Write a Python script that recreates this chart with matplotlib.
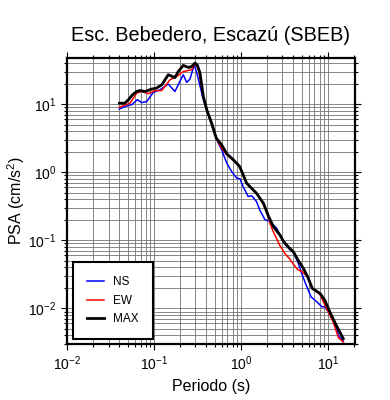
import matplotlib
matplotlib.use("Agg")
import matplotlib.pyplot as plt
from matplotlib.ticker import LogLocator, NullFormatter

plt.rcParams['font.family'] = ['Liberation Sans', 'DejaVu Sans']
plt.rcParams['mathtext.fontset'] = 'custom'
plt.rcParams['mathtext.rm'] = 'Liberation Sans'
plt.rcParams['mathtext.it'] = 'Liberation Sans:italic'

title = "Esc. Bebedero, Escazú (SBEB)"
xlabel = "Periodo (s)"
ylabel = "PSA (cm/s$^2$)"

# NS component
T_ns = [0.040, 0.0486, 0.0555, 0.0643, 0.0722, 0.0824, 0.098, 0.117, 0.146, 0.174,
        0.217, 0.238, 0.259, 0.283, 0.296, 0.318, 0.369, 0.421, 0.526, 0.60,
        0.686, 0.782, 0.893, 0.975, 1.06, 1.21, 1.33, 1.51, 1.65, 1.89,
        2.15, 2.57, 3.1, 3.6, 4.0, 4.5, 4.98, 5.5, 6.4, 7.2, 8.5, 9.2,
        10.5, 12.4, 13.2, 15.0]
psa_ns = [8.45, 9.4, 9.8, 11.6, 10.5, 10.9, 14.8, 16.2, 19.7, 15.3,
          27.0, 20.8, 23.3, 33.8, 35.6, 25.5, 11.6, 7.0, 3.0, 2.13,
          1.36, 1.02, 0.82, 0.80, 0.61, 0.44, 0.45, 0.37, 0.275, 0.20,
          0.19, 0.15, 0.093, 0.074, 0.066, 0.048, 0.033, 0.0235, 0.0147, 0.013, 0.0106, 0.0105,
          0.0083, 0.0055, 0.0040, 0.0033]

# EW component
T_ew = [0.040, 0.053, 0.0632, 0.0722, 0.086, 0.1026, 0.1227, 0.153, 0.183, 0.217,
        0.271, 0.296, 0.323, 0.369, 0.405, 0.46, 0.52, 0.60, 0.686, 0.817,
        0.93, 0.97, 1.16, 1.51, 1.81, 2.06, 2.15, 2.35, 2.78, 3.2,
        3.6, 4.2, 4.5, 4.98, 5.85, 6.6, 8.1, 9.6, 11.5, 13.2, 15.0]
psa_ew = [9.0, 10.3, 14.5, 15.3, 14.2, 15.8, 15.8, 22.8, 25.5, 30.0,
          31.9, 39.0, 33.8, 12.5, 8.3, 5.1, 3.1, 2.25, 1.8, 1.5,
          1.25, 1.18, 0.68, 0.48, 0.35, 0.23, 0.178, 0.134, 0.085, 0.064,
          0.054, 0.041, 0.037, 0.035, 0.029, 0.0195, 0.016, 0.010, 0.0063, 0.0037, 0.0032]

# MAX
T_max = [0.040, 0.046, 0.051, 0.056, 0.063, 0.069, 0.079, 0.094, 0.107, 0.123,
         0.146, 0.174, 0.190, 0.217, 0.248, 0.271, 0.296, 0.315, 0.338, 0.369,
         0.405, 0.46, 0.52, 0.60, 0.686, 0.817, 0.93, 0.97, 1.16, 1.51,
         1.81, 2.06, 2.35, 2.8, 3.1, 3.6, 4.0, 4.5, 5.2, 5.85,
         6.6, 8.1, 9.2, 10.5, 12.4, 15.0]
psa_max = [10.3, 10.3, 11.6, 13.5, 15.3, 15.8, 15.3, 16.6, 17.2, 19.2,
           27.0, 24.5, 30.0, 37.0, 34.5, 35.6, 40.0, 37.5, 28.5, 13.0,
           8.2, 5.25, 3.16, 2.52, 1.86, 1.52, 1.28, 1.2, 0.69, 0.49,
           0.35, 0.23, 0.16, 0.12, 0.095, 0.077, 0.068, 0.052, 0.039, 0.029,
           0.0197, 0.0166, 0.0132, 0.0089, 0.0057, 0.0036]

fig = plt.figure(figsize=(3.9, 4.0), dpi=100)
ax = fig.add_axes([0.1718, 0.14, 0.7377, 0.7158])

ax.plot(T_ns, psa_ns, color='#0000ff', lw=1.1, label='NS', zorder=3)
ax.plot(T_ew, psa_ew, color='#ff0000', lw=1.1, label='EW', zorder=4)
ax.plot(T_max, psa_max, color='black', lw=2.0, label='MAX', zorder=5)

ax.set_xscale('log')
ax.set_yscale('log')
ax.set_xlim(0.01, 20.3)
ax.set_ylim(0.003, 48)

for axis in (ax.xaxis, ax.yaxis):
    axis.set_major_locator(LogLocator(base=10, numticks=10))
    axis.set_minor_locator(LogLocator(base=10, subs=range(2, 10), numticks=20))
    axis.set_minor_formatter(NullFormatter())

ax.grid(True, which='both', color='0.45', lw=0.6)
ax.set_axisbelow(True)

ax.tick_params(which='both', direction='out', top=True, right=True, width=0.8,
               labelsize=10, colors='black', pad=3)
ax.tick_params(which='major', length=4.5)
ax.tick_params(which='minor', length=2.2)
for s in ax.spines.values():
    s.set_linewidth(1.6)

ax.set_title(title, fontsize=14.3, pad=12)
ax.set_xlabel(xlabel, fontsize=11.5, labelpad=4)
ax.set_ylabel(ylabel, fontsize=11.5, labelpad=1)

leg = ax.legend(loc='lower left', bbox_to_anchor=(0.022, 0.016, 0.277, 0.257),
                mode='expand', fontsize=8.5, frameon=True, fancybox=False,
                edgecolor='black', framealpha=1, borderpad=1.2, labelspacing=0.55,
                handlelength=1.4, handletextpad=0.8, borderaxespad=0)
leg.get_frame().set_linewidth(1.5)
leg.set_zorder(10)

fig.savefig('out.png', dpi=100)
